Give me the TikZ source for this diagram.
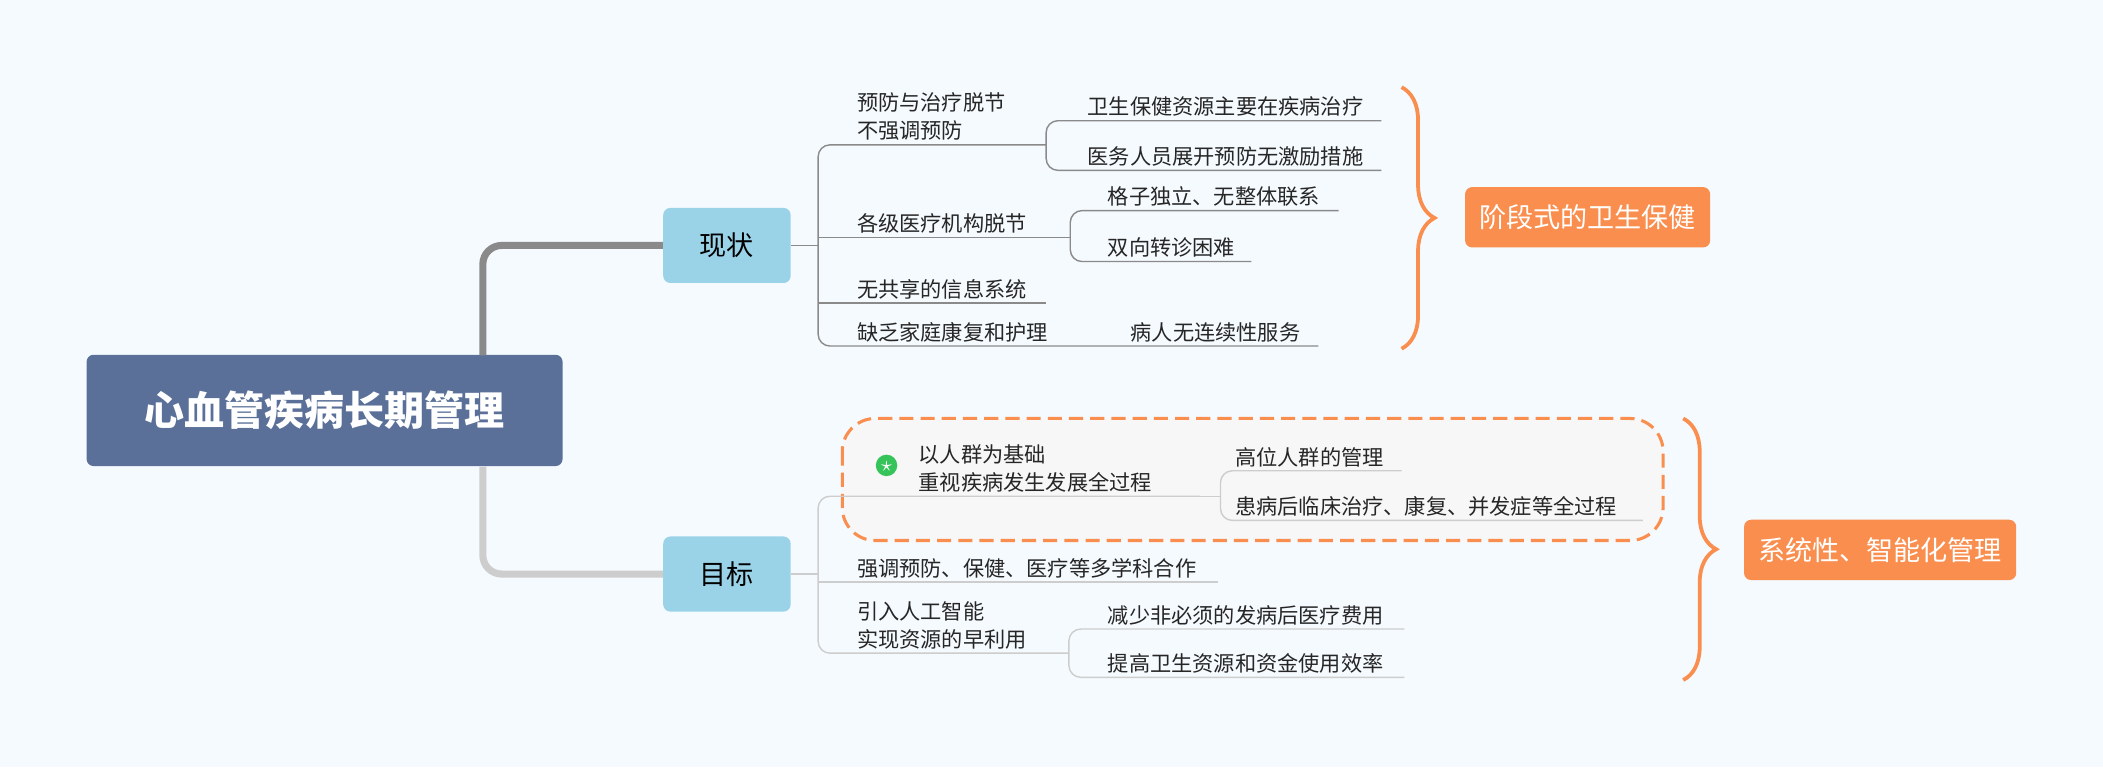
\documentclass[tikz,border=0pt]{standalone}
\usepackage{fontspec}
\setmainfont{Noto Sans CJK SC}
\usetikzlibrary{positioning, decorations.pathreplacing}
\definecolor{bgcol}{HTML}{F5FAFE}
\definecolor{rootcol}{HTML}{5A7099}
\definecolor{topiccol}{HTML}{9AD3E8}
\definecolor{orangecol}{HTML}{F98E4E}
\definecolor{darkline}{HTML}{8A8A8A}
\definecolor{lightline}{HTML}{CDCDCD}
\definecolor{starcol}{HTML}{36C35A}
\begin{document}
\begin{tikzpicture}[x=0.02cm, y=-0.02cm,
    root/.style={rectangle, fill=rootcol, rounded corners=3pt, text=white,
        font=\fontsize{17}{19}\selectfont\bfseries, minimum width=7.1cm, minimum height=1.66cm},
    topic/.style={rectangle, fill=topiccol, rounded corners=3pt,
        font=\fontsize{11.5}{13}\selectfont, minimum width=1.9cm, minimum height=1.12cm},
    leaf/.style={anchor=south west, inner sep=1.5pt, align=left,
        font=\fontsize{9}{12}\selectfont, text=black!85},
    summary/.style={rectangle, fill=orangecol, rounded corners=3pt, text=white,
        font=\fontsize{11.5}{13}\selectfont, minimum height=0.9cm, inner xsep=6pt},
    upline/.style={darkline, line width=0.6pt, rounded corners=5pt},
    lowline/.style={lightline, line width=0.6pt, rounded corners=5pt},
    bracestyle/.style={orangecol, line width=1.6pt,
        decorate, decoration={brace, amplitude=14pt}}
]
\fill[bgcol] (0,0) rectangle (1568,572);

% root and topics
\node (root) [root] at (242,306) {心血管疾病长期管理};
\node (state) [topic] at (542,183) {现状};
\node (goal) [topic] at (542,428) {目标};
\draw[darkline, line width=3pt, rounded corners=8pt] (360,265) -- (360,183) -- (state.west);
\draw[lightline, line width=3pt, rounded corners=8pt] (360,348) -- (360,428) -- (goal.west);

% upper branch
\draw[upline] (state.east) -- (610,183);
\draw[upline] (780,108) -- (610,108) -- (610,258) -- (983,258);
\draw[upline] (610,177) -- (780,177);
\draw[upline] (610,226) -- (780,226);
\node (s1) [leaf] at (636,108) {预防与治疗脱节\\不强调预防};
\node (s2) [leaf] at (636,177) {各级医疗机构脱节};
\node (s3) [leaf] at (636,226) {无共享的信息系统};
\node (s4) [leaf] at (636,258) {缺乏家庭康复和护理};
\node (s41) [leaf] at (840,258) {病人无连续性服务};
\draw[upline] (1030,90) -- (780,90) -- (780,127) -- (1030,127);
\node (s11) [leaf] at (808,90) {卫生保健资源主要在疾病治疗};
\node (s12) [leaf] at (808,127) {医务人员展开预防无激励措施};
\draw[upline] (998,157) -- (798,157) -- (798,195) -- (933,195);
\draw[upline] (780,177) -- (798,177);
\node (s21) [leaf] at (823,157) {格子独立、无整体联系};
\node (s22) [leaf] at (823,195) {双向转诊困难};

\draw[bracestyle] (1045,65) -- (1045,260);
\node (sumA) [summary, anchor=west] at (1092,162) {阶段式的卫生保健};

% lower branch
\draw[orangecol, line width=1.3pt, dashed, dash pattern=on 6pt off 3pt,
    fill=black!3, rounded corners=14pt] (628,312) rectangle (1240,403);
\draw[lowline] (goal.east) -- (610,428);
\draw[lowline] (895,370) -- (610,370) -- (610,487) -- (797,487);
\draw[lowline] (610,434) -- (908,434);
\fill[starcol] (661,347) circle (8);
\node[white, font=\fontsize{9}{9}\selectfont, inner sep=0pt] (star) at (661,347.5) {$\star$};
\node (g1) [leaf] at (682,370) {以人群为基础\\重视疾病发生发展全过程};
\node (g2) [leaf] at (636,434) {强调预防、保健、医疗等多学科合作};
\node (g3) [leaf] at (636,487) {引入人工智能\\实现资源的早利用};
\draw[lowline] (1045,351) -- (910,351) -- (910,388) -- (1225,388);
\draw[lowline] (895,370) -- (910,370);
\node (g11) [leaf] at (918,351) {高位人群的管理};
\node (g12) [leaf] at (918,388) {患病后临床治疗、康复、并发症等全过程};
\draw[lowline] (1047,469) -- (797,469) -- (797,505) -- (1047,505);
\node (g31) [leaf] at (823,469) {减少非必须的发病后医疗费用};
\node (g32) [leaf] at (823,505) {提高卫生资源和资金使用效率};

\draw[bracestyle] (1255,312) -- (1255,507);
\node (sumB) [summary, anchor=west] at (1300,410) {系统性、智能化管理};
\end{tikzpicture}
\end{document}
